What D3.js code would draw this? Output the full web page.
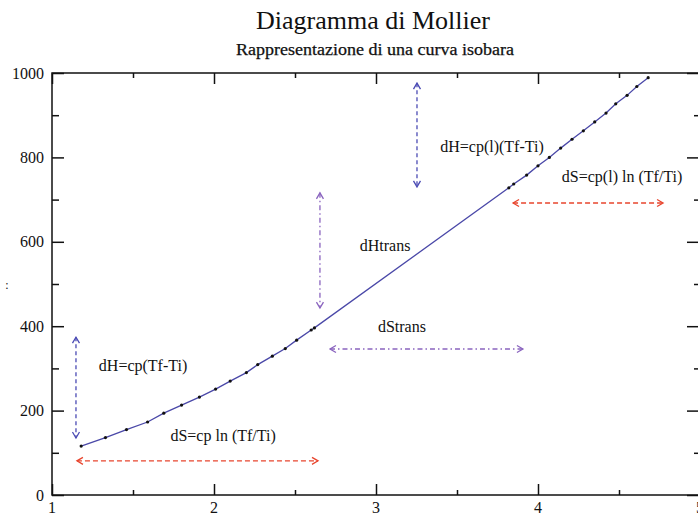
<!DOCTYPE html>
<html>
<head>
<meta charset="utf-8">
<script src="https://cdn.jsdelivr.net/npm/d3@7"></script>
<style>
  html, body { margin: 0; padding: 0; background: #fff; }
  svg { display: block; }
  text { font-family: "Liberation Serif", "DejaVu Serif", serif; fill: #111; }
</style>
</head>
<body>
<svg id="chart" width="698" height="515"></svg>
<script>
// ---- data (entropy s, enthalpy h) ----
const sValues = [1.18, 1.33, 1.46, 1.59, 1.69, 1.80, 1.91, 2.01, 2.10, 2.20, 2.27, 2.36, 2.44, 2.51, 2.60, 2.62,
                 3.82, 3.85, 3.93, 4.00, 4.07, 4.14, 4.21, 4.28, 4.35, 4.42, 4.48, 4.55, 4.61, 4.68];
const hValues = [116, 136, 155, 173, 194, 213, 232, 251, 270, 290, 309, 329, 347, 367, 391, 396,
                 728, 737, 758, 780, 800, 822, 843, 863, 884, 905, 927, 947, 968, 989];
const xTicks = [1, 2, 3, 4, 5];
const yTicks = [0, 200, 400, 600, 800, 1000];
const titleText = "Diagramma di Mollier";
const subtitleText = "Rappresentazione di una curva isobara";

// annotation arrows (data coordinates) and labels
const arrowKinds = ["blueDash", "redDash", "purpleDashDot", "purpleDashDot", "blueDash", "redDash"];
const arrowFrom = [[1.148, 374], [1.154, 81], [2.654, 716], [2.716, 346], [3.253, 976], [3.846, 692]];
const arrowTo   = [[1.148, 135], [2.642, 81], [2.654, 443], [3.907, 346], [3.253, 730], [4.772, 692]];
const labelTexts = ["dH=cp(Tf-Ti)", "dS=cp ln (Tf/Ti)", "dHtrans", "dStrans", "dH=cp(l)(Tf-Ti)", "dS=cp(l) ln (Tf/Ti)"];
const labelPos = [[1.562, 306], [2.056, 142], [3.056, 592], [3.160, 400], [3.716, 827], [4.519, 754]];

// ---- drawing ----
const svg = d3.select("#chart");
const x = d3.scaleLinear().domain([1, 5]).range([52, 700]);
const y = d3.scaleLinear().domain([0, 1000]).range([495, 73]);

const styles = {
  blueDash: { stroke: "#4b4bb4", dash: "4,3" },
  redDash: { stroke: "#e8452e", dash: "5,3" },
  purpleDashDot: { stroke: "#8a64bf", dash: "5,3,1.5,3" }
};

// title
svg.append("text").attr("x", 373).attr("y", 29).attr("text-anchor", "middle")
  .style("font-size", "26px").text(titleText);
svg.append("text").attr("x", 375).attr("y", 55).attr("text-anchor", "middle")
  .style("font-size", "16px").style("stroke", "#111").style("stroke-width", 0.25)
  .attr("textLength", 278).attr("lengthAdjust", "spacingAndGlyphs").text(subtitleText);

// frame
const g = svg.append("g");
g.append("rect").attr("x", x(1)).attr("y", y(1000))
  .attr("width", x(5) - x(1)).attr("height", y(0) - y(1000))
  .attr("fill", "none").attr("stroke", "#111").attr("stroke-width", 1.5);

// axes with inward ticks
const yMinor = d3.range(100, 1000, 200);
const xMinor = d3.range(1.5, 5, 1);
const axisLeft = d3.axisRight(y).tickValues(yTicks).tickSize(12).tickFormat("");
const axisLeftMinor = d3.axisRight(y).tickValues(yMinor).tickSize(7).tickFormat("");
const axisRight = d3.axisLeft(y).tickValues(yTicks).tickSize(13).tickFormat("");
const axisRightMinor = d3.axisLeft(y).tickValues(yMinor).tickSize(6).tickFormat("");
const axisBottom = d3.axisTop(x).tickValues(xTicks).tickSize(11).tickFormat("");
const axisBottomMinor = d3.axisTop(x).tickValues(xMinor).tickSize(5).tickFormat("");
const axisTop = d3.axisBottom(x).tickValues(xTicks).tickSize(11).tickFormat("");
const axisTopMinor = d3.axisBottom(x).tickValues(xMinor).tickSize(5).tickFormat("");

function drawAxis(ax, tx, ty) {
  const a = g.append("g").attr("transform", `translate(${tx},${ty})`).call(ax);
  a.select(".domain").remove();
  a.selectAll("line").attr("stroke", "#111").attr("stroke-width", 1.5);
}
drawAxis(axisLeft, x(1), 0);
drawAxis(axisLeftMinor, x(1), 0);
drawAxis(axisRight, x(5), 0);
drawAxis(axisRightMinor, x(5), 0);
drawAxis(axisBottom, 0, y(0));
drawAxis(axisBottomMinor, 0, y(0));
drawAxis(axisTop, 0, y(1000));
drawAxis(axisTopMinor, 0, y(1000));

// tick labels
svg.append("g").selectAll("text").data(yTicks).join("text")
  .attr("x", x(1) - 8).attr("y", d => y(d)).attr("dy", "0.35em")
  .attr("text-anchor", "end").style("font-size", "16px").text(d => d);
svg.append("g").selectAll("text").data(xTicks).join("text")
  .attr("x", d => x(d)).attr("y", y(0) + 18)
  .attr("text-anchor", "middle").style("font-size", "16px").text(d => d);

// stray y label mark
svg.append("text").attr("x", 7).attr("y", 289).attr("text-anchor", "middle")
  .style("font-size", "12px").text(":");

// curve
const pts = sValues.map((s, i) => [s, hValues[i]]);
g.append("path").datum(pts)
  .attr("d", d3.line().x(d => x(d[0])).y(d => y(d[1])))
  .attr("fill", "none").attr("stroke", "#4a48a8").attr("stroke-width", 1.3);
g.append("g").selectAll("circle").data(pts).join("circle")
  .attr("cx", d => x(d[0])).attr("cy", d => y(d[1])).attr("r", 1.6).attr("fill", "#111");

// arrows
function head(px, py, ang) {
  const L = 6, W = 3.5;
  const ca = Math.cos(ang), sa = Math.sin(ang);
  const bx = px - L * ca, by = py - L * sa;
  return `M${bx - W * sa},${by + W * ca}L${px},${py}L${bx + W * sa},${by - W * ca}`;
}
arrowKinds.forEach((k, i) => {
  const st = styles[k];
  const x1 = x(arrowFrom[i][0]), y1 = y(arrowFrom[i][1]);
  const x2 = x(arrowTo[i][0]), y2 = y(arrowTo[i][1]);
  g.append("line").attr("x1", x1).attr("y1", y1).attr("x2", x2).attr("y2", y2)
    .attr("stroke", st.stroke).attr("stroke-width", 1.3).attr("stroke-dasharray", st.dash);
  const ang = Math.atan2(y2 - y1, x2 - x1);
  g.append("path").attr("d", head(x2, y2, ang) + head(x1, y1, ang + Math.PI))
    .attr("fill", "none").attr("stroke", st.stroke).attr("stroke-width", 1.3);
});

// labels
svg.append("g").selectAll("text").data(labelTexts).join("text")
  .attr("x", (d, i) => x(labelPos[i][0])).attr("y", (d, i) => y(labelPos[i][1]))
  .attr("dy", "0.35em").attr("text-anchor", "middle").style("font-size", "16px")
  .text(d => d);
</script>
</body>
</html>
